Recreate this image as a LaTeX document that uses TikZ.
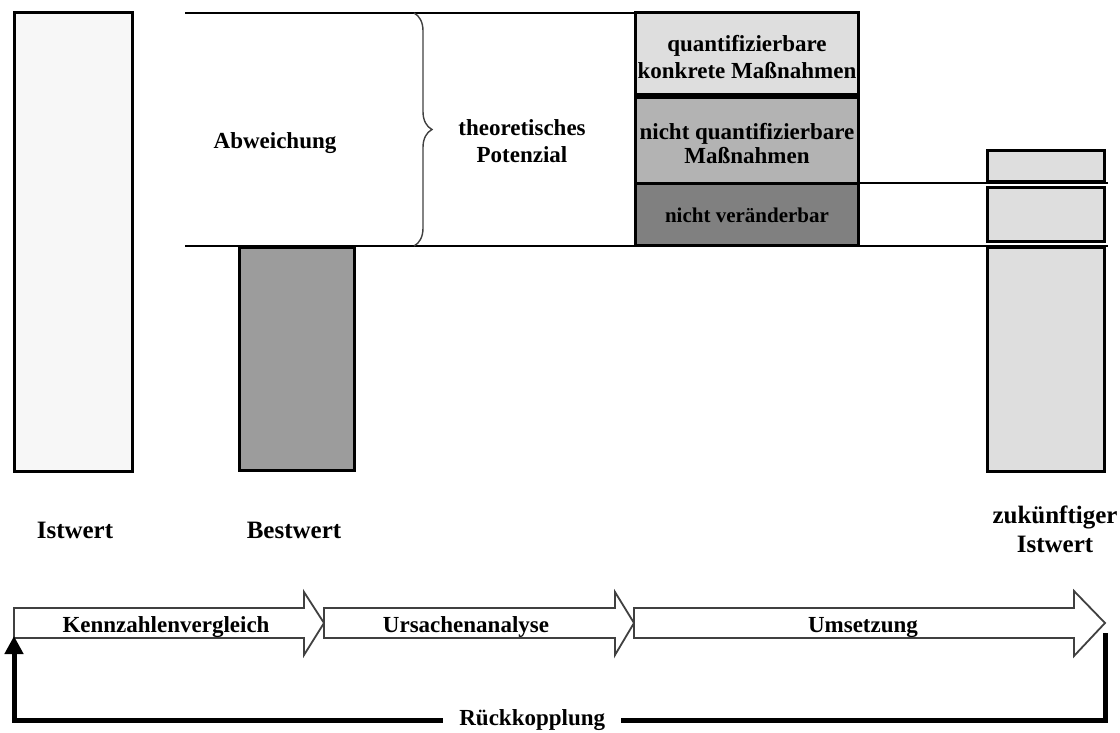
\documentclass[tikz,border=0pt]{standalone}
\usepackage{fontspec}
\setmainfont{Liberation Serif}
\usetikzlibrary{decorations.pathreplacing,arrows.meta}
\definecolor{istfill}{HTML}{F7F7F7}
\definecolor{bestfill}{HTML}{9C9C9C}
\definecolor{lightfill}{HTML}{DEDEDE}
\definecolor{midfill}{HTML}{B3B3B3}
\definecolor{darkfill}{HTML}{808080}
\begin{document}
\begin{tikzpicture}[x=1pt,y=-1pt,
  lbl/.style={font=\fontsize{23}{27}\selectfont\bfseries, inner sep=0pt, align=center},
  biglbl/.style={font=\fontsize{25}{29}\selectfont\bfseries, inner sep=0pt, align=center},
  bar/.style={draw=black, line width=3pt},
  rule/.style={draw=black, line width=2.5pt},
  flow/.style={draw=black!75, line width=1.8pt, fill=white, line join=miter},
  feedback/.style={draw=black, line width=5pt, line join=miter},
]
\useasboundingbox (0,0) rectangle (1120,733);

% reference levels
\draw[rule] (185,13) -- (635,13);
\draw[rule] (185,246) -- (1108,246);
\draw[rule, line width=2pt] (858,183) -- (1108,183);

% bars
\draw[bar, fill=istfill] (14,13) rectangle (132,471);
\draw[bar, fill=bestfill] (239,247) rectangle (354,470);
\draw[bar, fill=lightfill] (987,151) rectangle (1104,182);
\draw[bar, fill=lightfill] (987,188) rectangle (1104,241);
\draw[bar, fill=lightfill] (987,247) rectangle (1104,471);

% split of the potential
\draw[bar, fill=lightfill] (635,13) rectangle (858,94.5);
\draw[bar, fill=midfill] (635,97.5) rectangle (858,183.5);
\draw[bar, fill=darkfill] (635,183.5) rectangle (858,245.5);

% brace over the deviation
\draw[decorate, decoration={brace, amplitude=18pt}, line width=1.4pt, draw=black!75]
  (414,13) -- (414,246);

% texts of the upper part
\node[lbl] (abw) at (275,143) {Abweichung};
\node[lbl] (pot) at (522,141.5) {theoretisches\\Potenzial};
\node[lbl] (mq) at (747,57) {quantifizierbare\\konkrete Maßnahmen};
\node[lbl, font=\fontsize{23}{23.5}\selectfont\bfseries] (mnq) at (747,143.5) {nicht quantifizierbare\\Maßnahmen};
\node[lbl, font=\fontsize{21}{24}\selectfont\bfseries] (mnv) at (747,215) {nicht veränderbar};

% bar labels
\node[biglbl] (ist) at (75,530) {Istwert};
\node[biglbl] (best) at (294,530) {Bestwert};
\node[biglbl] (fut) at (1055,529.5) {zukünftiger\\Istwert};

% process steps
\draw[flow] (14,608) -- (304,608) -- (304,592) -- (324,623) -- (304,655) -- (304,638) -- (14,638) -- cycle;
\draw[flow] (324,608) -- (615,608) -- (615,592) -- (634,623) -- (615,655) -- (615,638) -- (324,638) -- cycle;
\draw[flow] (634,608) -- (1074,608) -- (1074,591) -- (1105,623) -- (1074,656) -- (1074,638) -- (634,638) -- cycle;
\node[lbl, anchor=base] (s1) at (166,632) {Kennzahlenvergleich};
\node[lbl, anchor=base] (s2) at (466,632) {Ursachenanalyse};
\node[lbl, anchor=base] (s3) at (863,632) {Umsetzung};

% feedback loop
\coordinate (fbtop) at (1105,633);
\coordinate (fbcornerR) at (1105,720);
\coordinate (fbcornerL) at (14,720);
\coordinate (fbend) at (14,636);
\draw[feedback, -{Triangle[width=18pt,length=18pt]}]
  (fbtop) -- (fbcornerR)
  -- node[pos=0.525, lbl, fill=white, inner xsep=16pt, inner ysep=2pt] (fb) {Rückkopplung} (fbcornerL)
  -- (fbend);
\end{tikzpicture}
\end{document}
